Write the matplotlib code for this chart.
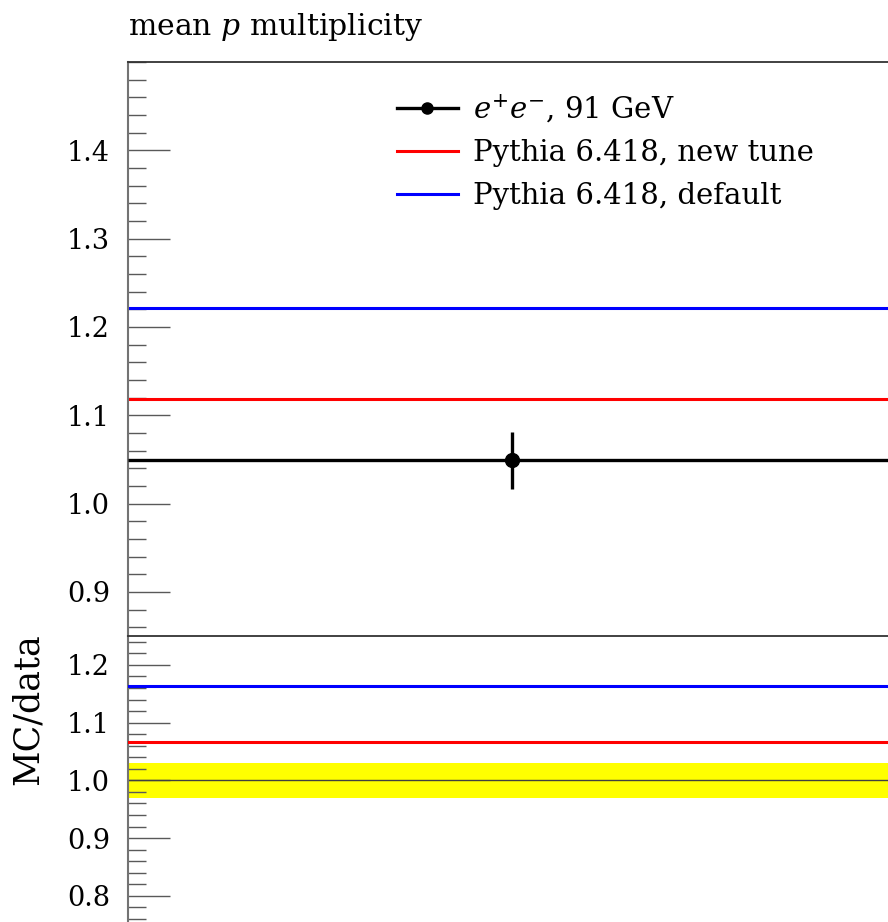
#!/usr/bin/env python3
"""Mean proton multiplicity at 91 GeV: data vs two Pythia 6.418 tunes, with MC/data ratio."""

import matplotlib

matplotlib.use("Agg")
import matplotlib.pyplot as plt
from matplotlib.lines import Line2D
from matplotlib.ticker import MultipleLocator
import numpy as np

plt.rcParams["font.family"] = ["DejaVu Serif"]
plt.rcParams["mathtext.fontset"] = "dejavuserif"

# single bin (91 GeV), x range only used for drawing the bin
bin_edges = [0.0, 1.0]
data_x = [0.5]
data_y = [1.049]
data_err = [0.032]
mc_names = ["Pythia 6.418, new tune", "Pythia 6.418, default"]
mc_values = [[1.118], [1.221]]
mc_colors = ["red", "blue"]
main_ticks = [0.9, 1.0, 1.1, 1.2, 1.3, 1.4]
ratio_ticks = [0.8, 0.9, 1.0, 1.1, 1.2]

W, H = 888, 922
fig = plt.figure(figsize=(W / 100, H / 100), dpi=100)

left = 128 / W
width = 768 / W
ax = fig.add_axes([left, 1 - 636 / H, width, 574 / H])
rax = fig.add_axes([left, 1 - 924.75 / H, width, 288.75 / H])

for a in (ax, rax):
    a.set_xlim(bin_edges[0], bin_edges[-1])
    a.set_xticks([])
    a.yaxis.set_minor_locator(MultipleLocator(0.02))
    a.tick_params(axis="y", which="major", direction="in", length=30, width=1.0,
                  color="0.35", pad=13, labelsize=19.5)
    a.tick_params(axis="y", which="minor", direction="in", length=13, width=1.0, color="0.35")
    a.spines["left"].set_color("0.45")
    a.spines["left"].set_linewidth(1.5)
    a.spines["right"].set_visible(False)
    a.spines["bottom"].set_visible(False)
    a.spines["top"].set_color("0.2")
    a.spines["top"].set_linewidth(1.3)

# main panel
ax.set_ylim(0.85, 1.5)
ax.set_yticks(main_ticks)
ax.set_yticklabels([f"{t:.1f}" for t in main_ticks])
for vals, col in zip(mc_values, mc_colors):
    ax.plot(bin_edges, [vals[0], vals[0]], color=col, lw=2.2, zorder=2)
ax.errorbar(data_x, data_y, xerr=[(bin_edges[1] - bin_edges[0]) / 2], yerr=data_err,
            fmt="o", color="black", ms=10, lw=2.4, elinewidth=2.4, capsize=0, zorder=3)

handles = [Line2D([], [], color="black", lw=2.4, marker="o", ms=8)]
handles += [Line2D([], [], color=c, lw=2.2) for c in mc_colors]
labels = [r"$e^{+}e^{-}$, 91 GeV"] + mc_names
ax.legend(handles, labels, loc="upper left", bbox_to_anchor=(0.350, 0.947), frameon=False,
          fontsize=21, handlelength=2.1, handletextpad=0.5, labelspacing=0.5,
          borderpad=0, borderaxespad=0)

# ratio panel
rax.set_ylim(0.75, 1.25)
rax.set_yticks(ratio_ticks)
rax.set_yticklabels([f"{t:.1f}" for t in ratio_ticks])
rel = np.array(data_err) / np.array(data_y)
rax.fill_between(bin_edges, [1 - rel[0]] * 2, [1 + rel[0]] * 2, color="yellow", lw=0, zorder=1)
rax.plot(bin_edges, [1.0, 1.0], color="0.25", lw=1.0, zorder=2)
for vals, col in zip(mc_values, mc_colors):
    r = vals[0] / data_y[0]
    rax.plot(bin_edges, [r, r], color=col, lw=2.2, zorder=3)

fig.text(128 / W, 1 - 35 / H, r"mean $p$ multiplicity", fontsize=21.5, ha="left", va="baseline")
fig.text(28 / W, 1 - 709 / H, "MC/data", fontsize=25, rotation=90, ha="center", va="center")

fig.savefig("out.png", dpi=100)
